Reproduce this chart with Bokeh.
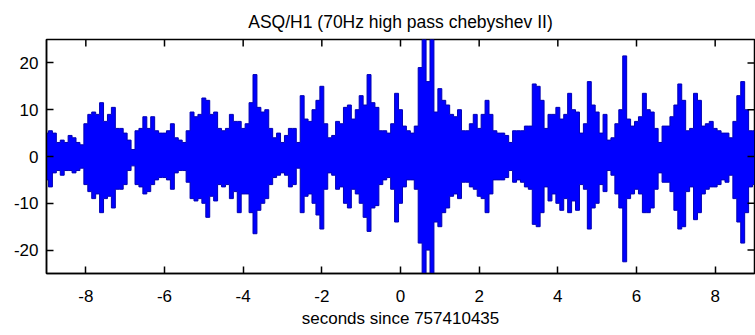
from bokeh.plotting import figure
from bokeh.models import ColumnDataSource, Range1d, FixedTicker
from bokeh.embed import file_html
from bokeh.resources import INLINE
import numpy as np

# Envelope of the filtered strain channel, sampled every 0.1 s from -9 s to +9 s
t_start, t_step = -9.0, 0.1

upper = [
    # -9.0 .. -6.0
    5, 5.5, 5, 3, 3.5, 3, 4.5, 4, 3, 2.5,
    7, 9, 9.5, 9, 11.5, 7.5, 9, 10.5, 6, 6,
    5, 3.5, 1.5, 5.5, 6, 8.5, 6, 8.5, 5.5, 5, 5,
    # -5.9 .. -3.0
    5.5, 7, 4, 3.5, 3, 5.5, 9.5, 8.5, 9, 12.5,
    12, 9, 9.5, 6, 5.5, 6, 9, 7.5, 7.5, 6,
    7, 11.5, 17.5, 10.5, 9.5, 10, 6, 4, 5, 3,
    # -2.9 .. 0.0
    4.5, 6, 6, 3, 13, 8, 7.5, 10, 12, 15,
    7, 4, 4.5, 7.5, 7, 10.5, 11, 8, 10, 13,
    11, 17.5, 11.5, 10.5, 5.5, 5.5, 5, 7, 13.5, 10,
    # 0.1 .. 3.0
    6.5, 5.5, 5, 6.5, 19, 25, 16, 25, 9.5, 14.5,
    12, 11, 9, 8.5, 10, 5.5, 5.5, 7, 9, 6,
    9, 12, 9, 5.5, 5, 5, 4.5, 3, 5.5, 5.5,
    # 3.1 .. 6.0
    5.5, 6.5, 6.5, 15.5, 15, 12, 6, 9, 9, 10.5,
    8, 9, 13.5, 10, 9.5, 5, 7, 16, 11, 9.5,
    5, 9, 3.5, 4, 7, 10, 21.5, 8, 6.5, 7.5,
    # 6.1 .. 9.0
    8.5, 13.5, 10, 9.5, 6, 3, 6.5, 6.5, 8.5, 11,
    15.5, 12, 5.5, 6, 13.5, 12, 6.5, 7, 7.5, 6,
    5.5, 5, 5, 4, 7.5, 13, 16, 10, 5.5, 5.5,
]

lower = [
    # -9.0 .. -6.0
    -5, -6.5, -3.5, -3, -4, -3, -3, -3.5, -3, -2.5,
    -6, -7.5, -9, -8, -12, -9, -8.5, -11, -7, -7,
    -6, -3, -2, -6, -6.5, -8, -7.5, -6, -5, -4.5, -4.5,
    # -5.9 .. -3.0
    -5, -7, -3.5, -3, -3, -5.5, -9, -9.5, -9, -10,
    -13, -8.5, -9.5, -6, -6.5, -6, -9, -7.5, -12, -8,
    -8, -12, -16.5, -11.5, -10, -9, -6, -4.5, -4, -3.5,
    # -2.9 .. 0.0
    -4, -6.5, -6, -2.5, -12, -8.5, -8, -10, -12.5, -15.5,
    -7, -3.5, -4, -7, -6.5, -10, -11, -7, -8, -10,
    -13, -16, -11, -10.5, -6, -5, -4.5, -7, -14, -10,
    # 0.1 .. 3.0
    -6.5, -5, -5, -7, -18.5, -25, -20, -25, -14, -15,
    -12, -11, -8.5, -8, -9, -5.5, -5.5, -6.5, -7, -8.5,
    -9, -12, -8, -5, -5, -5, -4.5, -3, -5.5, -5,
    # 3.1 .. 6.0
    -5.5, -6.5, -7, -14.5, -15, -12, -6.5, -9.5, -8, -10,
    -11.5, -9, -12, -9.5, -11.5, -6, -7, -15.5, -11, -10,
    -6, -7.5, -3, -4, -8, -11, -22.5, -9, -8, -7,
    # 6.1 .. 9.0
    -8, -12, -12, -11, -7, -3.5, -5.5, -5.5, -7.5, -11.5,
    -15.5, -15, -7.5, -6.5, -13.5, -12, -8, -7, -6.5, -6.5,
    -6, -5, -5.5, -4, -9, -14, -18.5, -12, -6.5, -6,
]

x_ticks = [-8, -6, -4, -2, 0, 2, 4, 6, 8]
y_ticks = [-20, -10, 0, 10, 20]

title_text = "ASQ/H1 (70Hz high pass chebyshev II)"
x_label = "seconds since 757410435"

t = t_start + t_step * np.arange(len(upper))
src = ColumnDataSource(dict(t=t, top=upper, bottom=lower))

FONT = "Liberation Sans"
TICK_LEN = 7

p = figure(
    width=755, height=335,
    x_range=Range1d(-9, 9), y_range=Range1d(-25, 25),
    output_backend="svg", toolbar_location=None,
    title=title_text,
    min_border_left=46, min_border_right=1,
    min_border_top=39, min_border_bottom=62,
)
p.background_fill_color = "white"
p.border_fill_color = "white"
p.grid.visible = False
p.outline_line_color = "black"
p.outline_line_width = 1.5

p.title.align = "center"
p.title.text_font = FONT
p.title.text_font_size = "17.5px"
p.title.text_font_style = "normal"
p.title.text_color = "black"
p.title.standoff = 16

# filled trace between the lower and upper envelope, with a darker rim
p.varea_step(x="t", y1="bottom", y2="top", step_mode="center", source=src,
             fill_color="#0000ff")
p.step(x="t", y="top", mode="center", source=src, line_color="#0000b4", line_width=1)
p.step(x="t", y="bottom", mode="center", source=src, line_color="#0000b4", line_width=1)

for ax in (p.xaxis[0], p.yaxis[0]):
    ax.axis_line_color = "black"
    ax.axis_line_width = 1.5
    ax.major_tick_in = TICK_LEN
    ax.major_tick_out = 0
    ax.major_tick_line_color = "black"
    ax.major_tick_line_width = 1.5
    ax.minor_tick_line_color = None
    ax.major_label_text_font = FONT
    ax.major_label_text_font_size = "17px"
    ax.major_label_text_color = "black"

p.xaxis.ticker = FixedTicker(ticks=x_ticks)
p.yaxis.ticker = FixedTicker(ticks=y_ticks)
# plain hyphen-minus labels
p.xaxis.major_label_overrides = {v: str(v) for v in x_ticks}
p.yaxis.major_label_overrides = {v: str(v) for v in y_ticks}
p.xaxis.major_label_standoff = 16
p.yaxis.major_label_standoff = 8
p.xaxis.axis_label = x_label
p.xaxis.axis_label_text_font = FONT
p.xaxis.axis_label_text_font_size = "17px"
p.xaxis.axis_label_text_font_style = "normal"
p.xaxis.axis_label_text_color = "black"
p.xaxis.axis_label_standoff = 4

# inward tick marks along the top and right edges of the box
p.ray(x=x_ticks, y=[p.y_range.end] * len(x_ticks), length=TICK_LEN,
      length_units="screen", angle=-np.pi / 2, line_color="black", line_width=1.5)
p.ray(x=[p.x_range.end] * len(y_ticks), y=y_ticks, length=TICK_LEN,
      length_units="screen", angle=np.pi, line_color="black", line_width=1.5)

open("out.html", "w").write(file_html(p, INLINE))
